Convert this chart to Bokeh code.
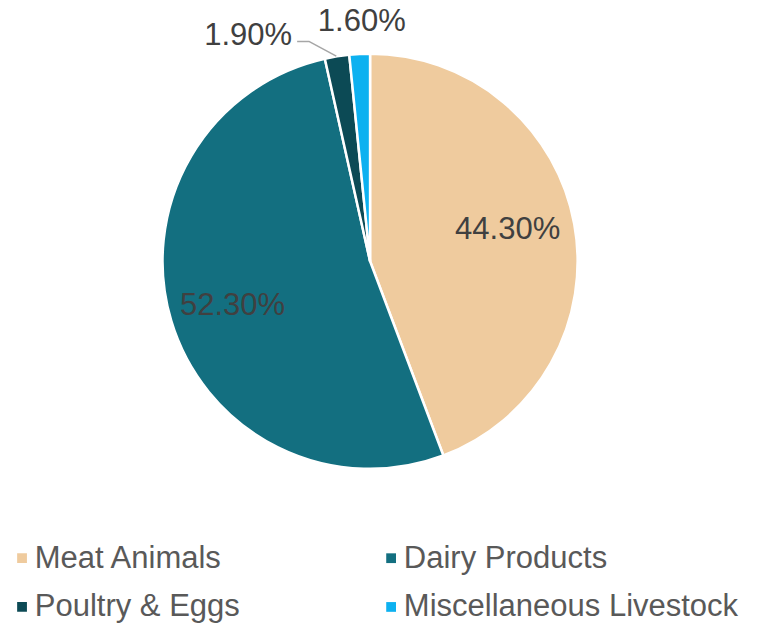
import math
from bokeh.plotting import figure
from bokeh.models import Range1d, ColumnDataSource
from bokeh.core.properties import value
from bokeh.embed import file_html
from bokeh.resources import INLINE

categories = ["Meat Animals", "Dairy Products", "Poultry & Eggs", "Miscellaneous Livestock"]
shares = [44.3, 52.3, 1.9, 1.6]
labels = ["44.30%", "52.30%", "1.90%", "1.60%"]
colors = ["#EFCB9E", "#136F80", "#0C4A55", "#0DB1F0"]

W, H = 746, 624
CX, CY, R = 377.5, 267.5, 212

p = figure(width=W, height=H, output_backend="svg", toolbar_location=None,
           x_range=Range1d(0, 762), y_range=Range1d(640, 0),
           min_border=0, outline_line_color=None)
p.axis.visible = False
p.grid.visible = False
p.background_fill_color = "white"
p.border_fill_color = "white"

total = sum(shares)
starts, ends = [], []
a = math.pi / 2
for s in shares:
    starts.append(a)
    a = a - s / total * 2 * math.pi
    ends.append(a)

# slices run clockwise from 12 o'clock; wedge angles are drawn anticlockwise
src = ColumnDataSource(dict(x=[CX] * 4, y=[CY] * 4,
                            start=ends, end=starts, color=colors))
p.wedge(x="x", y="y", radius=R, start_angle="start", end_angle="end",
        fill_color="color", line_color="white", line_width=2.5, source=src)

# data labels
lx = [518, 237, 253, 369]
ly = [234, 312, 35, 20]
p.text(x=lx, y=ly, text=labels, text_font=value("Liberation Sans"),
       text_font_size="31px", text_color="#404040",
       text_align="center", text_baseline="middle")

# leader line for 1.90%
p.line(x=[303, 315, 343], y=[42, 42, 57], line_color="#A6A6A6", line_width=1.5)

# legend
leg_x = [17, 394, 17, 394]
leg_y = [571, 571, 621, 621]
p.rect(x=[x + 5 for x in leg_x], y=[y + 1 for y in leg_y], width=10, height=10,
       fill_color=colors, line_color=None)
p.text(x=[x + 18 for x in leg_x], y=leg_y, text=categories,
       text_font=value("Liberation Sans"), text_font_size="31px",
       text_color="#595959", text_baseline="middle")

open("out.html", "w").write(file_html(p, INLINE))
